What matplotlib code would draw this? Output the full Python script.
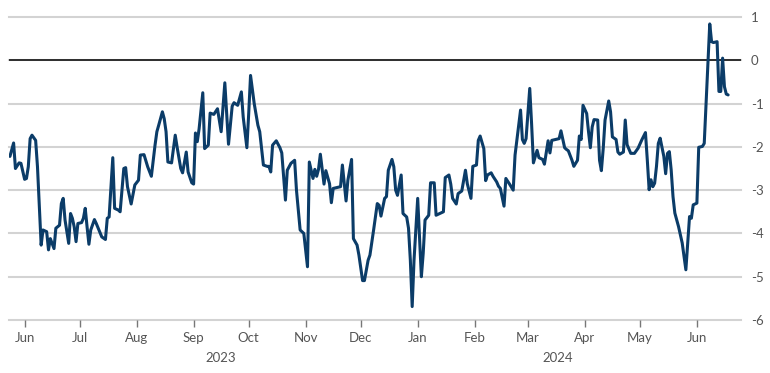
import matplotlib
matplotlib.use('Agg')
import matplotlib.pyplot as plt
import matplotlib.dates as mdates
import matplotlib.transforms as mtransforms
import pandas as pd

plt.rcParams['font.family'] = ['Lato', 'DejaVu Sans']
plt.rcParams['axes.unicode_minus'] = False

LINE_COLOR = '#0b3c68'
TEXT_COLOR = '#555555'
GRID_COLOR = '#d3d3d3'

dates = [
    '2023-05-24', '2023-05-26', '2023-05-27', '2023-05-29', '2023-05-30',
    '2023-06-01', '2023-06-02', '2023-06-03', '2023-06-04', '2023-06-05',
    '2023-06-07', '2023-06-08', '2023-06-09', '2023-06-10', '2023-06-11',
    '2023-06-13', '2023-06-14', '2023-06-15', '2023-06-17', '2023-06-18',
    '2023-06-20', '2023-06-21', '2023-06-22', '2023-06-23', '2023-06-25',
    '2023-06-26', '2023-06-27', '2023-06-28', '2023-06-29', '2023-06-30',
    '2023-07-02', '2023-07-03', '2023-07-04', '2023-07-05', '2023-07-06',
    '2023-07-07', '2023-07-09', '2023-07-10', '2023-07-12', '2023-07-13',
    '2023-07-15', '2023-07-16', '2023-07-17', '2023-07-19', '2023-07-20',
    '2023-07-22', '2023-07-23', '2023-07-25', '2023-07-26',
    '2023-07-27', '2023-07-29', '2023-07-31', '2023-08-02', '2023-08-03',
    '2023-08-05', '2023-08-07', '2023-08-09', '2023-08-11', '2023-08-12',
    '2023-08-13', '2023-08-15', '2023-08-16', '2023-08-17', '2023-08-18',
    '2023-08-20', '2023-08-22', '2023-08-23', '2023-08-25', '2023-08-26',
    '2023-08-28', '2023-08-29', '2023-08-31', '2023-09-01', '2023-09-02',
    '2023-09-03', '2023-09-04', '2023-09-06', '2023-09-07', '2023-09-09',
    '2023-09-10', '2023-09-12', '2023-09-14', '2023-09-16', '2023-09-18',
    '2023-09-19', '2023-09-20', '2023-09-22', '2023-09-23', '2023-09-25',
    '2023-09-27', '2023-09-28', '2023-09-30', '2023-10-01', '2023-10-02',
    '2023-10-04', '2023-10-06', '2023-10-07', '2023-10-09', '2023-10-11',
    '2023-10-12', '2023-10-13', '2023-10-14', '2023-10-16', '2023-10-18',
    '2023-10-19', '2023-10-21', '2023-10-22', '2023-10-24', '2023-10-26',
    '2023-10-27', '2023-10-29', '2023-10-31', '2023-11-02', '2023-11-03',
    '2023-11-05', '2023-11-06', '2023-11-07', '2023-11-08', '2023-11-09',
    '2023-11-11', '2023-11-12', '2023-11-14', '2023-11-15', '2023-11-16',
    '2023-11-18', '2023-11-20', '2023-11-21', '2023-11-23', '2023-11-24',
    '2023-11-26', '2023-11-27', '2023-11-29', '2023-11-30', '2023-12-02',
    '2023-12-03', '2023-12-05', '2023-12-06', '2023-12-08', '2023-12-10',
    '2023-12-11', '2023-12-12', '2023-12-14', '2023-12-15', '2023-12-16',
    '2023-12-18', '2023-12-19', '2023-12-20', '2023-12-21', '2023-12-23',
    '2023-12-24', '2023-12-26', '2023-12-27', '2023-12-28', '2023-12-29',
    '2023-12-30', '2024-01-01', '2024-01-02', '2024-01-03', '2024-01-04',
    '2024-01-05', '2024-01-07', '2024-01-08', '2024-01-10', '2024-01-11',
    '2024-01-13', '2024-01-15', '2024-01-16', '2024-01-18', '2024-01-19',
    '2024-01-20', '2024-01-22', '2024-01-23', '2024-01-25', '2024-01-27',
    '2024-01-28', '2024-01-30', '2024-01-31', '2024-02-02', '2024-02-03',
    '2024-02-04', '2024-02-06', '2024-02-07', '2024-02-08', '2024-02-10',
    '2024-02-11', '2024-02-13', '2024-02-14', '2024-02-15', '2024-02-17',
    '2024-02-18', '2024-02-20', '2024-02-22', '2024-02-23', '2024-02-24',
    '2024-02-26', '2024-02-27', '2024-02-28', '2024-02-29', '2024-03-02',
    '2024-03-03', '2024-03-04', '2024-03-06', '2024-03-07', '2024-03-09',
    '2024-03-10', '2024-03-12', '2024-03-13', '2024-03-14', '2024-03-16',
    '2024-03-18', '2024-03-19', '2024-03-21', '2024-03-22', '2024-03-23',
    '2024-03-25', '2024-03-26', '2024-03-28', '2024-03-29', '2024-03-30',
    '2024-03-31', '2024-04-02', '2024-04-03', '2024-04-04', '2024-04-05',
    '2024-04-06', '2024-04-08', '2024-04-09', '2024-04-10', '2024-04-11',
    '2024-04-12', '2024-04-14', '2024-04-15', '2024-04-16', '2024-04-18',
    '2024-04-19', '2024-04-20', '2024-04-22', '2024-04-23', '2024-04-24',
    '2024-04-26', '2024-04-28', '2024-04-30', '2024-05-02', '2024-05-04',
    '2024-05-05', '2024-05-06', '2024-05-07', '2024-05-08', '2024-05-09',
    '2024-05-10', '2024-05-11', '2024-05-12', '2024-05-14', '2024-05-15',
    '2024-05-16', '2024-05-17', '2024-05-18', '2024-05-19', '2024-05-20',
    '2024-05-22', '2024-05-24', '2024-05-25', '2024-05-26', '2024-05-28',
    '2024-05-29', '2024-05-30', '2024-06-01', '2024-06-02', '2024-06-04',
    '2024-06-05', '2024-06-08', '2024-06-09', '2024-06-10', '2024-06-12',
    '2024-06-13', '2024-06-14', '2024-06-15', '2024-06-16', '2024-06-17',
    '2024-06-18',
]

values = [
    -2.22, -1.91, -2.50, -2.37, -2.38,
    -2.75, -2.73, -2.46, -1.81, -1.73,
    -1.85, -2.46, -3.38, -4.27, -3.92,
    -3.96, -4.38, -4.12, -4.35, -3.88,
    -3.81, -3.31, -3.19, -3.69, -4.23,
    -3.54, -3.65, -3.85, -4.19, -3.77,
    -3.75, -3.65, -3.42, -3.85, -4.25,
    -3.92, -3.68, -3.77, -3.98, -4.08,
    -4.14, -3.65, -3.62, -2.25, -3.42,
    -3.46, -3.50, -2.50, -2.48,
    -2.92, -3.32, -2.88, -2.77, -2.19,
    -2.18, -2.46, -2.68, -1.96, -1.65,
    -1.50, -1.19, -1.35, -1.65, -2.35,
    -2.37, -1.73, -2.00, -2.50, -2.60,
    -2.12, -2.58, -2.83, -2.86, -1.68,
    -1.88, -1.58, -0.75, -2.04, -1.96,
    -1.22, -1.25, -1.12, -1.65, -0.52,
    -1.23, -1.94, -1.06, -0.98, -1.04,
    -0.73, -1.31, -2.02, -1.23, -0.35,
    -1.00, -1.50, -1.65, -2.42, -2.45,
    -2.45, -2.58, -1.96, -1.86, -2.02,
    -2.14, -3.23, -2.54, -2.38, -2.31,
    -3.00, -3.92, -4.00, -4.77, -2.35,
    -2.73, -2.52, -2.68, -2.52, -2.17,
    -2.86, -2.55, -2.85, -3.29, -2.96,
    -2.94, -2.92, -2.42, -3.25, -2.77,
    -2.29, -4.12, -4.27, -4.50, -5.09,
    -5.09, -4.62, -4.50, -3.92, -3.31,
    -3.35, -3.60, -3.19, -3.15, -2.54,
    -2.29, -2.46, -3.00, -3.12, -2.65,
    -3.54, -3.62, -3.88, -4.62, -5.69,
    -4.62, -3.19, -4.08, -5.00, -4.46,
    -3.69, -3.58, -2.83, -2.83, -3.58,
    -3.54, -3.50, -2.71, -2.65, -2.86,
    -3.19, -3.32, -3.08, -3.02, -2.54,
    -2.85, -3.19, -2.45, -2.42, -1.85,
    -1.75, -2.04, -2.78, -2.65, -2.60,
    -2.68, -2.81, -2.91, -2.96, -3.37,
    -2.73, -2.86, -3.00, -2.19, -1.85,
    -1.15, -1.83, -1.92, -1.81, -0.65,
    -1.46, -2.37, -2.08, -2.25, -2.29,
    -2.40, -1.86, -2.14, -1.85, -1.83,
    -1.81, -1.63, -2.02, -2.06, -2.09,
    -2.31, -2.45, -2.31, -1.75, -1.83,
    -1.04, -1.23, -1.65, -2.02, -1.54,
    -1.37, -1.38, -2.31, -2.55, -2.04,
    -1.38, -0.94, -1.19, -1.77, -1.83,
    -2.12, -2.17, -2.12, -1.38, -1.95,
    -2.15, -2.15, -2.03, -1.84, -1.67,
    -2.30, -2.99, -2.76, -2.92, -2.84,
    -2.45, -1.92, -1.80, -2.22, -2.62,
    -2.15, -2.11, -2.53, -3.15, -3.53,
    -3.84, -4.22, -4.53, -4.84, -3.61,
    -3.65, -3.34, -3.30, -2.01, -1.99,
    -1.92, 0.84, 0.43, 0.41, 0.43,
    -0.72, -0.72, 0.05, -0.61, -0.78,
    -0.80,
]

y_ticks = [1, 0, -1, -2, -3, -4, -5, -6]
years = ['2023', '2024']
year_label_dates = ['2023-09-16', '2024-03-17']

x = pd.to_datetime(dates)

fig = plt.figure(figsize=(7.7, 3.73), dpi=100)
ax = fig.add_axes([0.0117, 0.1421, 0.9506, 0.8123])

for t in y_ticks:
    ax.axhline(t, color=GRID_COLOR, lw=1.5, zorder=0, clip_on=False)
ax.axhline(0, color='black', lw=1.1, zorder=1)

ax.plot(x, values, color=LINE_COLOR, lw=2.2, solid_joinstyle='round',
        solid_capstyle='round', zorder=3)

ax.set_ylim(-6, 1)
ax.set_xlim(pd.Timestamp('2023-05-23 12:00'), pd.Timestamp('2024-06-25'))

ax.yaxis.tick_right()
ax.set_yticks(y_ticks)
ax.set_yticklabels([str(t) for t in y_ticks])
ax.tick_params(axis='y', length=0, pad=7, labelsize=9.5, labelcolor=TEXT_COLOR)

ax.xaxis.set_major_locator(mdates.MonthLocator())
ax.xaxis.set_major_formatter(mdates.DateFormatter('%b'))
ax.tick_params(axis='x', length=5, width=1, color='#777777', pad=4,
               labelsize=9.5, labelcolor=TEXT_COLOR)

for s in ax.spines.values():
    s.set_visible(False)

trans = mtransforms.blended_transform_factory(ax.transData, fig.transFigure)
for label, d in zip(years, year_label_dates):
    ax.text(pd.Timestamp(d), 1 - 358 / 373, label, transform=trans,
            ha='center', va='center', fontsize=9.5, color=TEXT_COLOR)

fig.savefig('out.png', dpi=100)
